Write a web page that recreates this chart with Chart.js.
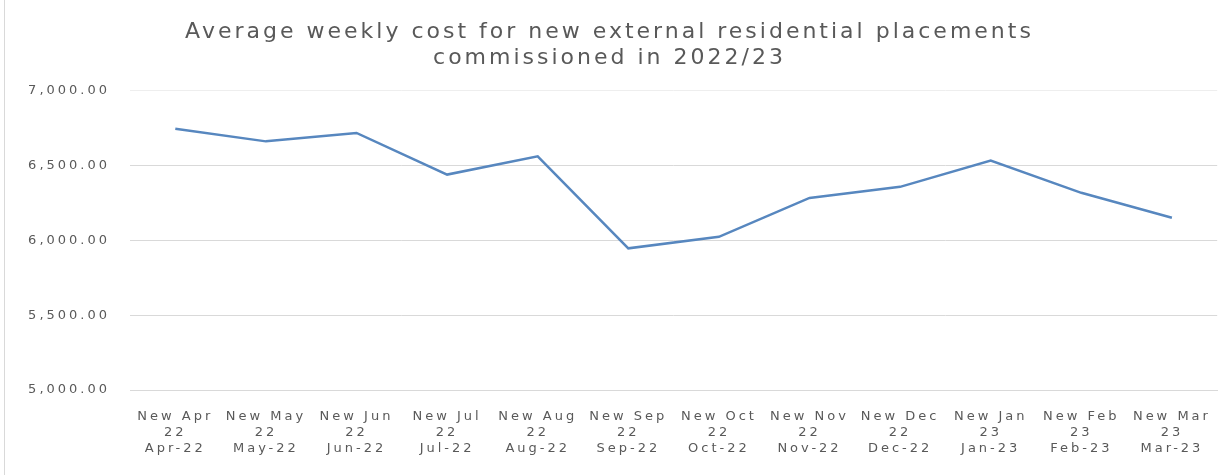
<!DOCTYPE html>
<html>
<head>
<meta charset="utf-8">
<script src="https://cdn.jsdelivr.net/npm/chart.js@4/dist/chart.umd.min.js"></script>
<style>
  body { margin: 0; background: #fff; }
  #wrap { position: relative; width: 1221px; height: 475px; }
  #edge { position: absolute; left: 4px; top: 0; width: 1px; height: 475px; background: #d9d9d9; }
</style>
</head>
<body>
<div id="wrap">
  <canvas id="costChart"></canvas>
  <div id="edge"></div>
</div>
<script>
// month categories: inner label (wrapped) and outer label
var innerLabels = ["New Apr 22", "New May 22", "New Jun 22", "New Jul 22", "New Aug 22", "New Sep 22",
                   "New Oct 22", "New Nov 22", "New Dec 22", "New Jan 23", "New Feb 23", "New Mar 23"];
var outerLabels = ["Apr-22", "May-22", "Jun-22", "Jul-22", "Aug-22", "Sep-22",
                   "Oct-22", "Nov-22", "Dec-22", "Jan-23", "Feb-23", "Mar-23"];

// average weekly cost per month
var weeklyCost = [6747, 6662, 6718, 6440, 6562, 5947, 6024, 6284, 6358, 6533, 6318, 6151];

// value axis range
var yMin = 5000;
var yMax = 7000;
var yStep = 500;

var titleLines = ["Average weekly cost for new external residential placements", "commissioned in 2022/23"];

// build the stacked tick labels: "New Apr" / "22" / "Apr-22"
var labels = innerLabels.map(function(txt, i) {
    var cut = txt.lastIndexOf(" ");
    return [txt.substr(0, cut), txt.substr(cut + 1), outerLabels[i]];
});

Chart.defaults.font.family = "'DejaVu Sans', sans-serif";
Chart.defaults.color = "#595959";

// wide text spacing for every label
var spacing = {
    id: "spacing",
    beforeUpdate: function(chart) { chart.ctx.letterSpacing = "3px"; },
    beforeDraw: function(chart) { chart.ctx.letterSpacing = "3px"; }
};

var ctx = document.getElementById("costChart").getContext("2d");

var costChart = new Chart(ctx, {
    type: "line",
    data: {
        labels: labels,
        datasets: [{
            label: "Average weekly cost",
            data: weeklyCost,
            borderColor: "#5787bf",
            borderWidth: 2.5,
            pointRadius: 0,
            tension: 0,
            fill: false
        }]
    },
    options: {
        responsive: true,
        maintainAspectRatio: false,
        animation: false,
        layout: { padding: { left: 0, right: 2, top: 0, bottom: 0 } },
        plugins: {
            legend: { display: false },
            tooltip: { enabled: false },
            title: {
                display: true,
                text: titleLines,
                color: "#595959",
                font: { size: 22, weight: "normal" },
                lineHeight: 1.2,
                padding: { top: 19, bottom: 19 }
            }
        },
        scales: {
            x: {
                offset: true,
                grid: { display: false },
                border: { color: "#d9d9d9", width: 1 },
                ticks: {
                    autoSkip: false,
                    maxRotation: 0,
                    minRotation: 0,
                    padding: 10,
                    font: { size: 13, lineHeight: 1.25 }
                },
                afterFit: function(scale) { scale.height = 85; }
            },
            y: {
                min: yMin,
                max: yMax,
                grid: {
                    color: function(c) { return c.tick && c.tick.value === yMax ? "#eeeeee" : "#d9d9d9"; },
                    drawTicks: false
                },
                border: { display: false },
                ticks: {
                    stepSize: yStep,
                    padding: 20,
                    font: { size: 13 },
                    callback: function(v) {
                        return v.toLocaleString("en-GB", { minimumFractionDigits: 2, maximumFractionDigits: 2 });
                    }
                },
                afterFit: function(scale) { scale.width = 130; }
            }
        }
    },
    plugins: [spacing]
});
</script>
</body>
</html>
